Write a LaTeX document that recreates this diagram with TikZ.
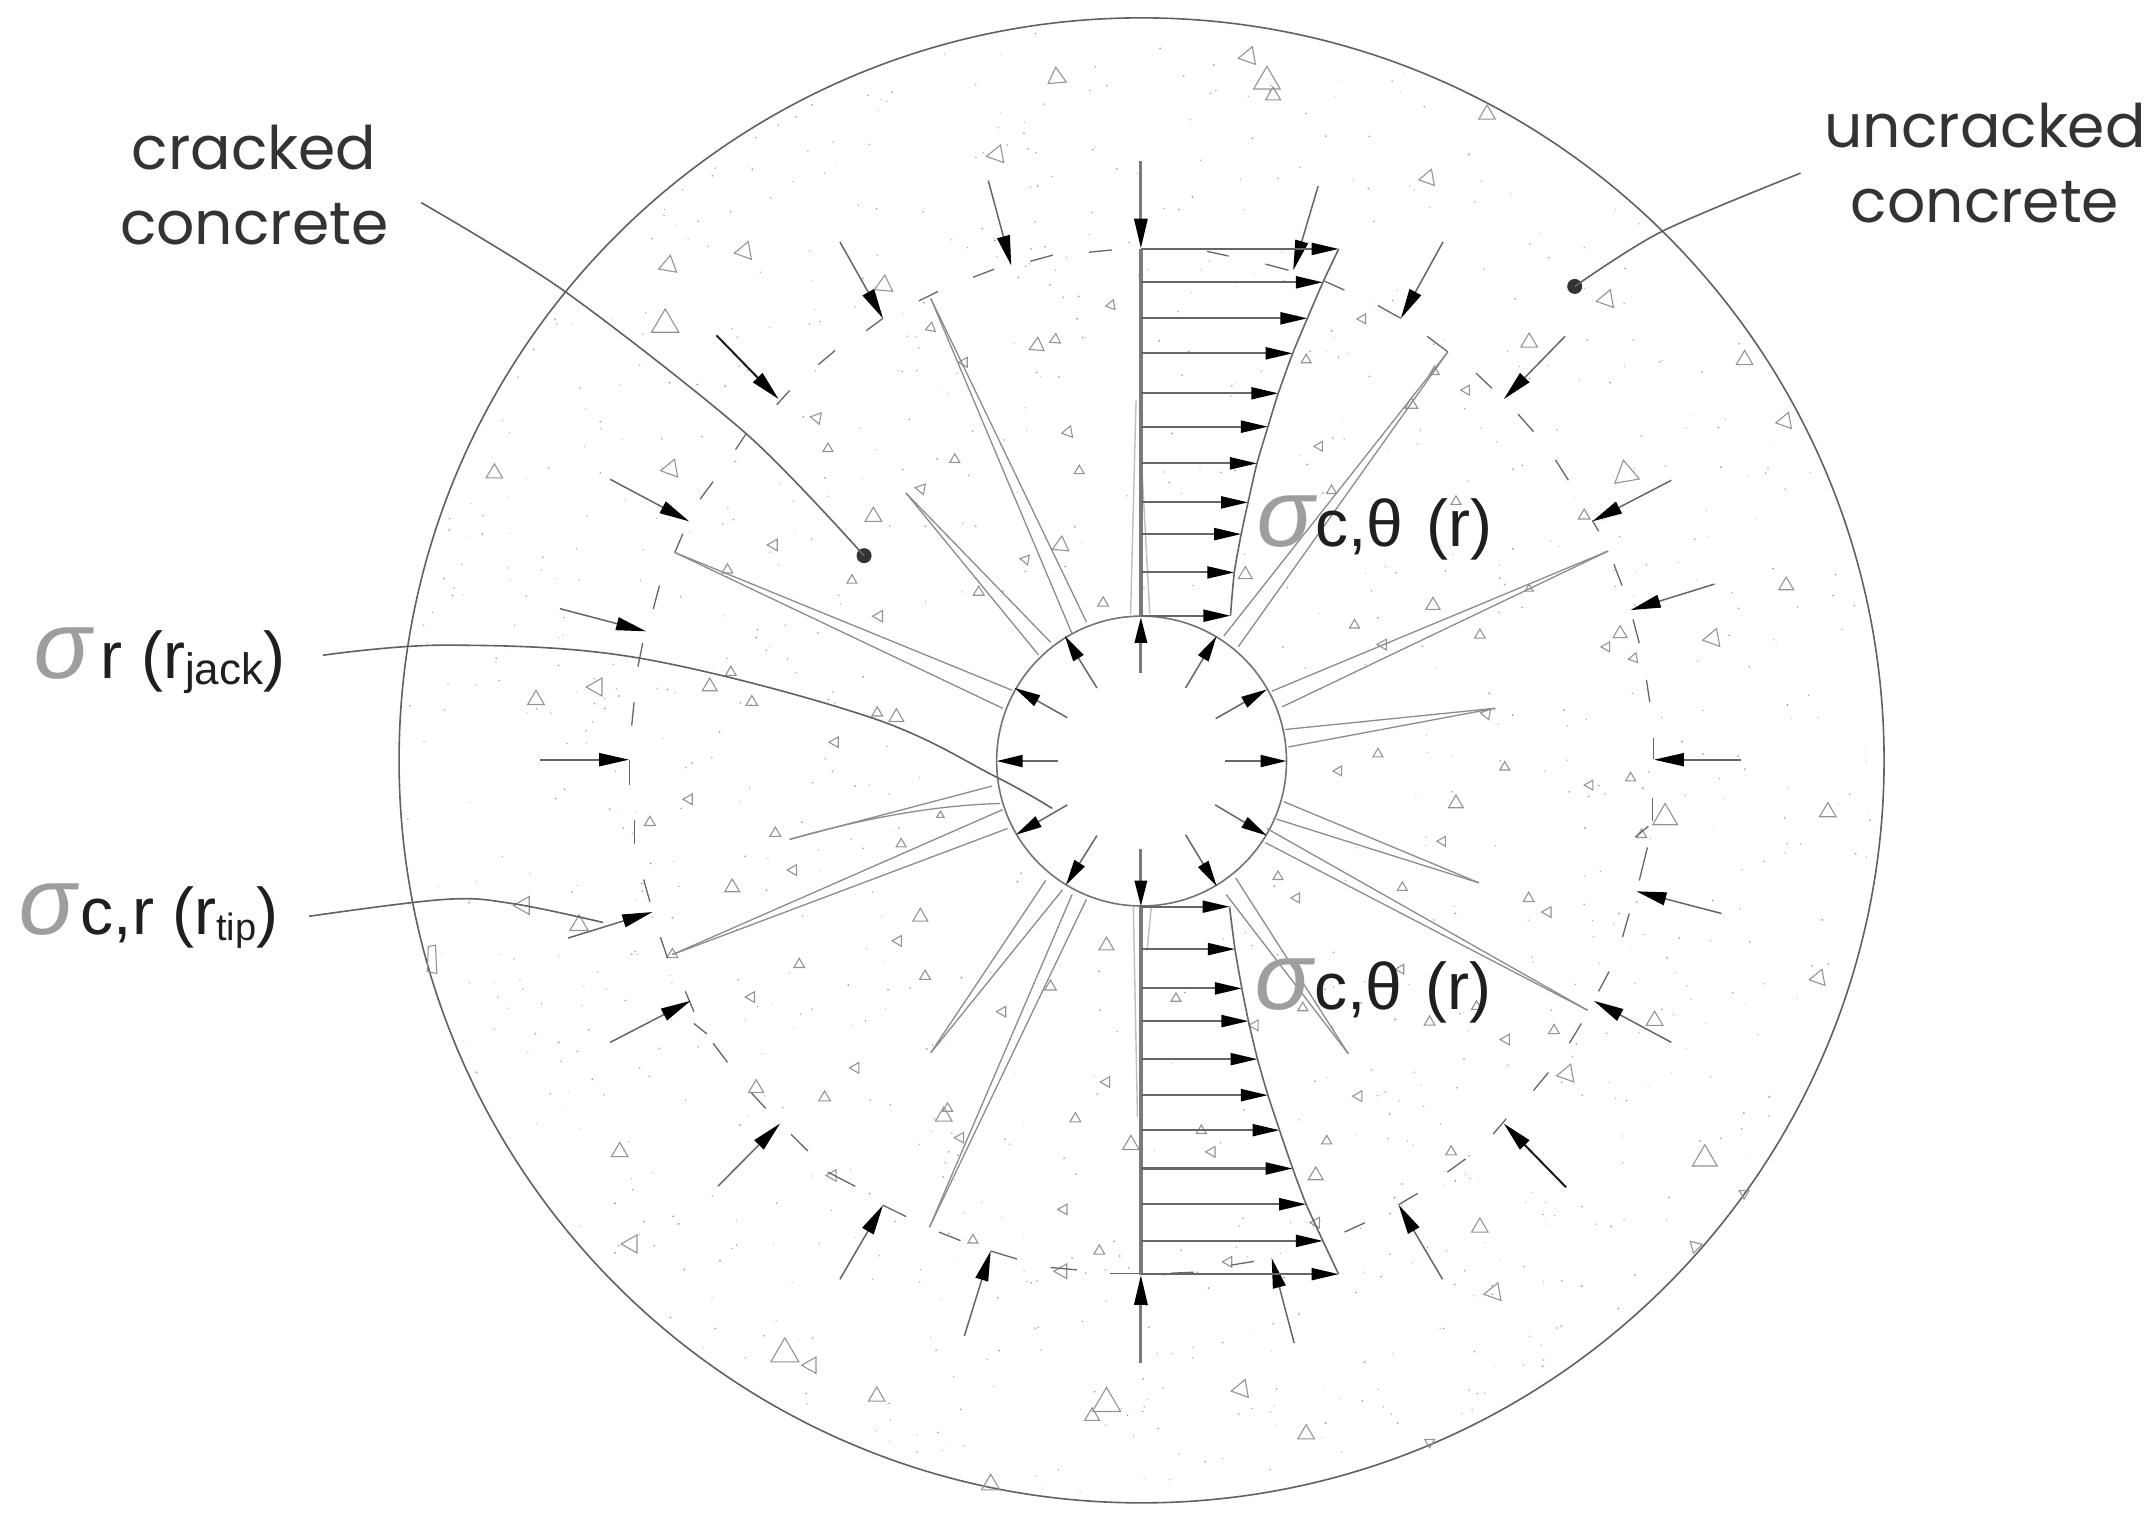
\documentclass[tikz,border=0pt]{standalone}
\usepackage{fontspec}
\usetikzlibrary{arrows.meta}
\setmainfont{Liberation Sans}
\newfontfamily\geofont{Poppins}
\newfontfamily\sigfont[FakeSlant=0.12]{Liberation Sans}
\definecolor{sgray}{gray}{0.62}
\newcommand{\sgm}{{\color{sgray}\sigfont\fontsize{48pt}{48pt}\selectfont σ}}
\newcommand{\sublab}[2][22pt]{{\fontsize{#1}{#1}\selectfont\raisebox{-3pt}{#2}}}
\tikzset{
  x=0.6869pt,y=-0.6869pt,
  q1/.style={shift={(283.9,14.6)},xscale=0.3484,yscale=0.3436},
  q2/.style={shift={(829.9,14.6)},xscale=0.3484,yscale=0.3436},
  q3/.style={shift={(283.9,553.3)},xscale=0.3484,yscale=0.3436},
  q4/.style={shift={(829.9,553.3)},xscale=0.3484,yscale=0.3436},
  circ/.style={draw=black!62,line width=0.8pt},
  crackline/.style={draw=black!45,line width=0.65pt},
  lightline/.style={draw=black!25,line width=0.7pt},
  dashseg/.style={draw=black!60,line width=0.65pt},
  trig/.style={draw=black!42,line width=0.55pt},
  leader/.style={draw=black!62,line width=0.8pt},
  axisline/.style={draw=black!52,line width=1.7pt},
  forcearrow/.style={draw=black!60,line width=0.75pt,-{Triangle[length=15pt,width=6.5pt,color=black]}},
  heavyarrow/.style={draw=black!90,line width=1pt,-{Triangle[length=15pt,width=6.5pt,color=black]}},
  holearrow/.style={draw=black!60,line width=0.75pt,-{Triangle[length=13pt,width=6pt,color=black]}},
  stressarrow/.style={draw=black!60,line width=1.05pt,-{Triangle[length=13.5pt,width=6pt,color=black]}},
  edgeline/.style={draw=black!60,line width=0.8pt},
  sdot/.style={circle,fill=black!80,inner sep=0pt,minimum size=7.5pt},
  geolab/.style={font=\geofont\fontsize{30pt}{37.5pt}\selectfont,text=black!80,align=center,inner sep=0pt},
  siglab/.style={font=\fontsize{33pt}{33pt}\selectfont,text=black!88,anchor=base west,inner sep=0pt},
}
\newcommand{\trilist}[1]{\foreach \px/\py/\ps/\pr in {#1}{
  \draw[trig,shift={(\px,\py)},rotate=\pr] (270:\ps)--(30:\ps)--(150:\ps)--cycle;}}
\begin{document}
\begin{tikzpicture}
\useasboundingbox (0,0) rectangle (1568,1111);
\fill[white] (0,0) rectangle (1568,1111);
% stipple
\pgfmathsetseed{7}
\foreach \i in {1,...,1000}{
  \pgfmathsetmacro\sa{rnd*360}
  \pgfmathsetmacro\sr{106+sqrt(rnd)*430}
  \pgfmathsetmacro\sd{0.35+rnd*0.45}
  \fill[black!35] ({831+\sr*cos(\sa)},{554+\sr*sin(\sa)}) circle (\sd);
}
% main circles
\draw[circ] (831,553.5) circle (540.5);
\draw[circ,draw=black!55] (831,554) circle (105.5);
% quadrant 1
\begin{scope}[q1]
\trilist{1393/122/22/5,1268/285/22/100,741/490/22/100,582/520/22/-10,575/645/33/0,1032/562/22/-5,1130/652/12/-10,1200/725/12/-30,1352/690/18/-5,1390/677/13/-5,1507/604/12/100,892/843/14/80,915/908/12/0,1180/931/12/0,1417/873/14/100,1440/955/12/0,1110/993/13/80,587/951/22/100,218/960/20/0,1010/1052/20/0,802/1112/14/90,1402/1113/20/-5,1328/1143/12/80,1230/1212/13/0,1490/1235/13/0,705/1165/13/0,965/1187/12/0,1022/1263/14/90,712/1382/13/0,668/1412/18/0,756/1445/14/0,432/1413/22/90,305/1440/20/0,1018/1468/13/0,1058/1477/18/0,930/1530/13/90}
\foreach \ax/\ay/\bx/\by in {1460/492/1508/487,1338/511/1385/498,1218/545/1262/528,1105/595/1145/575,1030/632/995/658,895/730/930/700,808/815/835/785,722/910/745/875,648/1015/675/978,595/1128/612/1088,550/1248/563/1198,518/1370/528/1320,505/1495/510/1445}
  \draw[dashseg] (\ax,\ay)--(\bx,\by);
\foreach \ax/\ay/\bx/\by in {1130/590/1425/1300,1130/590/1455/1275,1078/1002/1355/1345,1078/1002/1380/1318,595/1128/1280/1458,595/1128/1300/1420}
  \draw[crackline] (\ax,\ay)--(\bx,\by);
\foreach \ax/\ay/\bx/\by in {1250/340/1298/520,940/470/1030/632,460/973/625/1062,355/1247/535/1295}
  \draw[forcearrow] (\ax,\ay)--(\bx,\by);
\draw[heavyarrow] (682,668)--(812,803);
\foreach \ax/\ay/\bx/\by in {1477/1415/1410/1305,1415/1478/1305/1415}
  \draw[holearrow] (\ax,\ay)--(\bx,\by);
\end{scope}
% quadrant 2
\begin{scope}[q2]
\trilist{227/77/22/100,265/130/32/0,278/160/18/0,725/200/20/0,602/335/20/100,975/592/22/100,465/633/12/90,813/683/20/0,347/720/12/0,1263/720/20/0,682/784/12/90,615/745/12/0,567/815/15/0,1348/850/20/100,375/903/12/90,1015/962/30/10,400/997/12/0,928/1050/14/0,660/1020/12/0,220/1175/17/0,1350/1198/18/0,813/1205/10/0,612/1240/17/0,1003/1300/17/0,1197/1310/22/100,448/1282/12/0,975/1328/12/90,1032/1352/12/100,508/1323/13/90,710/1303/13/0,724/1470/13/80,497/1555/12/0}
\foreach \ax/\ay/\bx/\by in {140/490/185/500,262/517/310/530,385/553/427/572,497/605/545/632,600/670/643/703,702/748/735/780,790/835/822/872,868/932/895/975,945/1060/958/1083,990/1153/1007/1198,1030/1270/1043/1320,1058/1398/1065/1445,1072/1520/1072/1565}
  \draw[dashseg] (\ax,\ay)--(\bx,\by);
\foreach \ax/\ay/\bx/\by in {643/703/175/1305,643/703/205/1328,978/1125/275/1422,978/1125/297/1455,742/1458/303/1503,742/1458/310/1540}
  \draw[crackline] (\ax,\ay)--(\bx,\by);
\foreach \ax/\ay/\bx/\by in {372/352/320/530,633/470/545/632,888/670/760/803,1110/975/945/1062,1200/1195/1025/1250}
  \draw[forcearrow] (\ax,\ay)--(\bx,\by);
\foreach \ax/\ay/\bx/\by in {95/1415/160/1305,158/1480/265/1418}
  \draw[holearrow] (\ax,\ay)--(\bx,\by);
\end{scope}
% quadrant 3
\begin{scope}[q3]
\trilist{625/83/13/90,543/132/13/0,805/155/13/0,1150/117/9/0,1068/178/12/0,843/233/13/90,715/270/18/0,280/308/22/90,395/350/22/0,1108/332/18/0,1062/383/13/90,590/412/13/0,855/433/13/0,1118/458/13/0,755/502/13/90,1497/393/18/0,1380/480/14/0,1280/533/13/90,973/652/13/90,1497/682/13/90,908/715/14/0,765/695/18/0,1157/755/20/0,1165/738/12/0,1192/800/13/90,1432/760/13/0,480/830/20/0,1548/815/20/0,925/880/14/90,1408/952/13/90,1218/1017/12/0,505/1025/22/90,1482/1040/13/0,1405/1083/18/90,825/1258/34/0,880/1282/20/90,1017/1348/20/0,1497/1363/34/0,1467/1390/18/0,1255/1535/22/0}
\draw[trig] (80,395)--(95,392)--(98,452)--(78,448)--cycle;
\foreach \ax/\ay/\bx/\by in {500/0/500/52,511/128/511/178,530/253/543/300,565/375/580/420,617/490/635/533,635/558/662/580,675/600/705/640,755/705/785/738,838/793/873/828,915/873/972/903,1030/943/1078/967,1147/1000/1192/1018,1255/1040/1310/1057,1380/1075/1435/1080,1505/1087/1565/1087}
  \draw[dashseg] (\ax,\ay)--(\bx,\by);
\foreach \ax/\ay/\bx/\by in {835/168/1258/55,590/412/1280/105,590/412/1290/145,1130/620/1370/255,1130/620/1405/275,1127/990/1425/285,1127/990/1455/295}
  \draw[crackline] (\ax,\ay)--(\bx,\by);
\draw[crackline] (835,168) .. controls (1000,120) and (1150,95) .. (1275,92);
\foreach \ax/\ay/\bx/\by in {460/598/628/510,685/903/815/770,940/1100/1030/943,1200/1220/1255/1040,372/377/548/322}
  \draw[forcearrow] (\ax,\ay)--(\bx,\by);
\foreach \ax/\ay/\bx/\by in {1415/95/1308/158,1477/160/1412/265}
  \draw[holearrow] (\ax,\ay)--(\bx,\by);
\end{scope}
% quadrant 4
\begin{scope}[q4]
\trilist{415/23/12/90,762/15/12/0,940/53/12/90,1025/38/12/0,660/92/18/0,1097/122/30/0,1437/110/20/0,632/172/12/90,1048/158/12/0,288/247/12/0,327/292/12/90,548/270/12/0,812/293/13/0,852/322/13/90,545/443/12/90,1418/462/20/100,340/525/12/0,75/505/12/0,703/522/12/0,605/555/13/0,240/562/13/90,865/573/13/0,1075/552/20/0,765/592/13/90,892/665/22/100,457/712/13/90,128/785/12/0,390/807/12/0,650/830/13/0,150/830/13/90,1180/845/30/0,367/880/18/0,368/980/13/90,710/990/20/0,1262/918/12/60,1160/1030/15/45,185/1063/13/90,740/1128/22/100,212/1333/22/100,347/1428/20/0,605/1445/12/60}
\foreach \ax/\ay/\bx/\by in {1070/80/1070/130,1062/140/1035/163,1060/185/1043/255,1022/325/1008/375,980/448/958/490,922/558/897/600,853/662/822/700,765/760/738/792,680/845/642/873,580/918/540/942,470/980/427/1000,238/1062/190/1070,112/1085/65/1087}
  \draw[dashseg] (\ax,\ay)--(\bx,\by);
\foreach \ax/\ay/\bx/\by in {300/88/708/260,285/125/708/260,265/145/935/530,262/175/935/530,200/250/435/622,180/285/435/622}
  \draw[crackline] (\ax,\ay)--(\bx,\by);
\foreach \ax/\ay/\bx/\by in {1215/325/1037/278,1110/598/948/510,632/1100/540/942,322/1235/275/1055}
  \draw[forcearrow] (\ax,\ay)--(\bx,\by);
\draw[heavyarrow] (890,905)--(760,770);
\foreach \ax/\ay/\bx/\by in {157/95/265/160,95/158/160/267}
  \draw[holearrow] (\ax,\ay)--(\bx,\by);
\end{scope}
% light lines by the axis
\foreach \ax/\ay/\bx/\by in {823/447/827/291,837/447/831/337,825/660/828/813,838/661/835/692}
  \draw[lightline] (\ax,\ay)--(\bx,\by);
% axes
\draw[axisline] (830.5,181)--(830.5,449);
\draw[axisline] (830.5,660)--(830.5,928);
\foreach \ax/\ay/\bx/\by in {1267/553/1204/553,393/553/458/553}
  \draw[forcearrow,line width=1pt] (\ax,\ay)--(\bx,\by);
\draw[forcearrow,line width=1.6pt,draw=black!52] (830.5,117)--(830.5,181);
\draw[forcearrow,line width=1.6pt,draw=black!52] (830.5,992)--(830.5,928);
\foreach \ax/\ay/\bx/\by in {770/554/725.5/554,892/554/936.5/554}
  \draw[holearrow,line width=1pt] (\ax,\ay)--(\bx,\by);
\draw[holearrow,line width=1.6pt,draw=black!52] (830.5,490)--(830.5,449);
\draw[holearrow,line width=1.6pt,draw=black!52] (830.5,618)--(830.5,660);
% stress distributions
\foreach \yy/\xx in {181.2/974.5,205.5/963,231.7/951.7,257.2/941,286.3/930.5,310.6/923,337.3/915,365.7/908.5,388.8/903.5,416.7/898.5,448.2/895.7,660/895,690.9/899,719.5/904,743.3/908.8,771/915.4,797.2/923,822.7/931.4,850.6/941,876.6/950.8,903.3/963,927.5/974.4}
  \draw[stressarrow] (830.5,\yy)--(\xx,\yy);
\draw[edgeline] plot[smooth,tension=0.4] coordinates {(974.5,181.2)(963,205.5)(951.7,231.7)(941,257.2)(930.5,286.3)(923,310.6)(915,337.3)(908.5,365.7)(903.5,388.8)(898.5,416.7)(895.7,448.2)};
\draw[edgeline] plot[smooth,tension=0.4] coordinates {(895,660)(899,690.9)(904,719.5)(908.8,743.3)(915.4,771)(923,797.2)(931.4,822.7)(941,850.6)(950.8,876.6)(963,903.3)(974.4,927.5)};
% labels
\node[geolab] (lcrack) at (185,135) {cracked\\concrete};
\node[geolab] (luncrack) at (1445,119) {uncracked\\concrete};
\node[siglab] (lthetaup) at (912,398) {\sgm\hspace{1.5pt}c,θ\hspace{11.5pt}(r)};
\node[siglab] (lthetalow) at (911,735) {\sgm\hspace{1.5pt}c,θ\hspace{11.5pt}(r)};
\node[siglab] (lrjack) at (22,494) {\sgm\,r (r\sublab{jack})};
\node[siglab] (lrtip) at (11,680) {\sgm\hspace{3pt}c,r (r\sublab[19pt]{tip})};
% dots and leaders
\node[sdot] (dcrack) at (629,404.5) {};
\node[sdot] (duncrack) at (1146.3,208.5) {};
\coordinate (scrack) at (306.6,147.5);
\coordinate (suncrack) at (1310.7,126);
\coordinate (sjack) at (235,477);
\coordinate (ejack) at (766,588.5);
\coordinate (stip) at (225,667);
\coordinate (etip) at (439,671.5);
\draw[leader] plot[smooth,tension=0.5] coordinates {(scrack)(411,212)(543.5,316)(dcrack)};
\draw[leader] plot[smooth,tension=0.5] coordinates {(suncrack)(1209.7,168.5)(duncrack)};
\draw[leader] plot[smooth,tension=0.6] coordinates {(sjack)(327,469.6)(465,479)(633,522)(725,565.5)(ejack)};
\draw[leader] plot[smooth,tension=0.6] coordinates {(stip)(324,654.7)(374.5,658)(etip)};
\end{tikzpicture}
\end{document}
